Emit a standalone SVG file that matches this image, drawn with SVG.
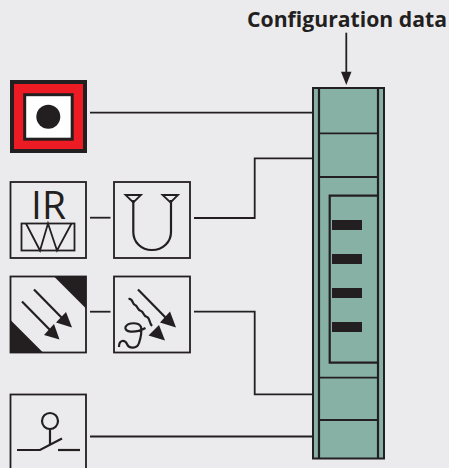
<svg xmlns="http://www.w3.org/2000/svg" width="449" height="468" viewBox="0 0 449 468">
<defs>
<style>
.l{fill:none;stroke:#231f20;stroke-width:1.8}
.m{fill:none;stroke:#231f20;stroke-width:2.2}
.k{fill:#231f20;stroke:none}
.t{fill:#231f20;font-family:"Open Sans","Noto Sans",sans-serif}
</style>
</defs>
<rect width="449" height="468" fill="#ebebed"/>
<g id="connectors">
<path class="l" d="M90 112.700H313"/>
<path class="l" d="M90 217.700H110.500"/>
<path class="l" d="M194 218H254.700V158.300H313"/>
<path class="l" d="M90 311.700H110.500"/>
<path class="l" d="M194 311.700H254.700V394.300H313"/>
<path class="l" d="M90 436.500H313"/>
<path class="l" d="M346.300 32.700V73"/>
<path class="k" d="M341 71.700H351.500L346.300 85Z"/>
</g>
<g id="config-label"><text class="t" x="447" y="27" font-size="21.200" font-weight="700" text-anchor="end">Configuration data</text></g>
<g id="red-indicator">
<rect x="12" y="82" width="73" height="69" fill="#ed1c24" stroke="#231f20" stroke-width="4"/>
<rect x="24.700" y="94.700" width="47.500" height="44.500" fill="#fff" stroke="#231f20" stroke-width="3"/>
<circle class="k" cx="48.300" cy="116.700" r="12"/>
</g>
<g id="ir-sensor">
<rect class="l" x="10.500" y="182" width="75.500" height="76"/>
<text class="t" x="48.500" y="218.500" font-size="39" text-anchor="middle">IR</text>
<rect class="l" x="21.500" y="223.500" width="53" height="27"/>
<path class="l" d="M26 223.500L40 250.500L48 223.500L57 250.500L71.500 223.500"/>
</g>
<g id="thermocouple">
<rect class="l" x="114" y="182" width="76" height="76"/>
<path class="m" d="M133.300 200V232C133.300 242 141 250 152 250C163 250 171 242 171 232V200"/>
<path class="l" d="M125.500 195H141L133.300 202.500Z"/>
<path class="l" d="M162.500 195H178L170.500 202.500Z"/>
</g>
<g id="light-sensor">
<rect class="l" x="10.500" y="276.500" width="75.500" height="76"/>
<path class="k" d="M54 276.500H86V308.500Z"/>
<path class="k" d="M10.500 320L43 352.500H10.500Z"/>
<path class="m" d="M34 289.500L62 318"/>
<path class="k" d="M72 327.500L56 322.500L66 312Z"/>
<path class="m" d="M22 301.500L50 330"/>
<path class="k" d="M59.500 339.500L44 335L54 324Z"/>
</g>
<g id="light-temp-sensor">
<rect class="l" x="114" y="276.500" width="76" height="76"/>
<path class="m" d="M138 289.500L167 319"/>
<path class="k" d="M176 327.500L160 322.500L170 311.500Z"/>
<path class="m" d="M128.500 299C133 298 132 304 135 305C138 306 137 310 141 311C144 312 143 316 147 317C150 318 149 323 152 326"/>
<path class="k" d="M165 340.500L148.500 335.500L159 325Z"/>
<path class="m" d="M119 347C119 339 125 340 127 344C129 349 137 349 139 343C141 337 142 332 141 327C139 322 128 322 125.500 327C124 332 134 334 145.500 328"/>
</g>
<g id="switch">
<rect class="l" x="10.500" y="394.500" width="75.500" height="80"/>
<circle class="m" cx="50" cy="421" r="8"/>
<path class="m" d="M50 429V445"/>
<path class="m" d="M17 450H40L62 438.500"/>
<path class="m" d="M58 450H80"/>
</g>
<g id="controller">
<rect x="313" y="88" width="71" height="370.500" fill="#88b1a5" stroke="#231f20" stroke-width="2"/>
<path class="m" d="M319 88V458.500M378 88V458.500"/>
<path class="l" d="M319 133.300H378M319 177H378M319 377.700H378M319 420H378"/>
<path class="m" d="M378 195.700H329.700V362.700H378"/>
<rect class="k" x="332" y="220" width="30" height="10"/>
<rect class="k" x="332" y="254" width="30" height="10"/>
<rect class="k" x="332" y="288" width="30" height="10"/>
<rect class="k" x="332" y="322" width="30" height="10"/>
</g>
</svg>
